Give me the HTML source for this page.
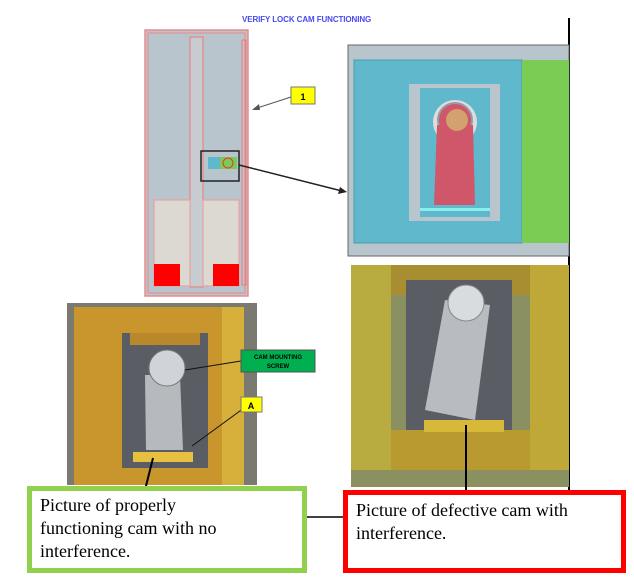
<!DOCTYPE html>
<html><head><style>
body{margin:0;width:634px;height:587px;background:#fff;position:relative;overflow:hidden;font-family:"Liberation Serif",serif}
.a{position:absolute}
</style></head><body>
<div class="a" style="left:242px;top:15px;font:bold 8px 'Liberation Sans',sans-serif;color:#4a4af0;letter-spacing:-0.1px">VERIFY LOCK CAM FUNCTIONING</div>
<svg class="a" style="left:0;top:0" width="634" height="587">
<line x1="569" y1="18" x2="569" y2="490" stroke="#000" stroke-width="2"/>
<!-- cabinet -->
<rect x="145" y="30" width="103" height="266" fill="#b9c5cd" stroke="#e88" stroke-width="1.5"/>
<rect x="148" y="33" width="97" height="260" fill="none" stroke="#e88"/>
<rect x="190" y="37" width="13" height="250" fill="#c6ccd0" stroke="#e77"/>
<rect x="242" y="40" width="4" height="245" fill="none" stroke="#e77"/>
<rect x="154" y="200" width="36" height="86" fill="#dcd8d2" stroke="#e99"/>
<rect x="203" y="200" width="36" height="86" fill="#dcd8d2" stroke="#e99"/>
<rect x="154" y="264" width="26" height="22" fill="#f00"/>
<rect x="213" y="264" width="26" height="22" fill="#f00"/>
<rect x="208" y="157" width="12" height="12" fill="#5fb8cc"/>
<rect x="220" y="157" width="17" height="12" fill="#7acc55"/>
<circle cx="228" cy="163" r="5" fill="none" stroke="#e33"/>
<rect x="201" y="151" width="38" height="30" fill="none" stroke="#222" stroke-width="1.5"/>
<line x1="291" y1="97" x2="254" y2="109" stroke="#555"/>
<polygon points="252,110 259,104 260,110" fill="#555"/>
<rect x="291" y="87" width="24" height="17" fill="#ff0" stroke="#777"/>
<text x="303" y="100" font-family="Liberation Sans" font-weight="bold" font-size="9" text-anchor="middle">1</text>
<line x1="239" y1="165" x2="342" y2="191" stroke="#222" stroke-width="1.5"/>
<polygon points="347,192 338,194 340,187" fill="#222"/>
<!-- detail -->
<rect x="348" y="45" width="221" height="211" fill="#b9c5cd" stroke="#666"/>
<rect x="354" y="60" width="168" height="183" fill="#5fb8cc" stroke="#4a9aaa"/>
<rect x="522" y="60" width="47" height="183" fill="#7acc55"/>
<rect x="409" y="84" width="91" height="137" fill="#b9c5cd"/>
<rect x="420" y="88" width="70" height="129" fill="#5fb8cc"/>
<rect x="420" y="208" width="70" height="3" fill="#8ee"/>
<circle cx="455" cy="122" r="22" fill="#ddd"/>
<circle cx="455" cy="120" r="18" fill="#99a"/>
<path d="M437 125 L473 125 L475 205 L434 205 Z" fill="#d0576a"/>
<circle cx="455" cy="120" r="16" fill="#d0576a"/>
<circle cx="457" cy="120" r="11" fill="#d3a070"/>
<!-- right photo -->
<rect x="351" y="265" width="218" height="222" fill="#8a9060"/>
<rect x="351" y="265" width="40" height="205" fill="#b8ac40"/>
<rect x="530" y="265" width="39" height="205" fill="#c0a838"/>
<rect x="391" y="265" width="139" height="30" fill="#a88e30"/>
<rect x="406" y="280" width="106" height="155" fill="#5a5e64"/>
<rect x="391" y="430" width="139" height="40" fill="#b89a30"/>
<rect x="424" y="420" width="80" height="12" fill="#d8b838"/>
<path d="M445 300 L490 305 L475 420 L425 410 Z" fill="#b8bcc0"/>
<circle cx="466" cy="303" r="18" fill="#d8dcdf" stroke="#888"/>
<line x1="466" y1="425" x2="466" y2="492" stroke="#000" stroke-width="2"/>
<!-- left photo -->
<rect x="67" y="303" width="190" height="182" fill="#7a7a70"/>
<rect x="74" y="307" width="170" height="178" fill="#c9962e"/>
<rect x="222" y="307" width="22" height="178" fill="#d6b03a"/>
<rect x="122" y="333" width="86" height="135" fill="#5a5e64"/>
<rect x="130" y="333" width="70" height="12" fill="#b8882a"/>
<rect x="133" y="452" width="60" height="10" fill="#e8c040"/>
<path d="M145 375 L180 375 L183 450 L146 450 Z" fill="#b6babe"/>
<circle cx="167" cy="368" r="18" fill="#d0d4d8" stroke="#777"/>
<line x1="241" y1="361" x2="185" y2="370" stroke="#111"/>
<line x1="244" y1="408" x2="192" y2="446" stroke="#111"/>
<line x1="153" y1="458" x2="145" y2="490" stroke="#000" stroke-width="2"/>
<rect x="241" y="350" width="74" height="22" fill="#00b050" stroke="#555"/>
<text x="278" y="359" font-family="Liberation Sans" font-weight="bold" font-size="6" text-anchor="middle">CAM MOUNTING</text>
<text x="278" y="368" font-family="Liberation Sans" font-weight="bold" font-size="6" text-anchor="middle">SCREW</text>
<rect x="241" y="397" width="21" height="15" fill="#ff0" stroke="#777"/>
<text x="251" y="409" font-family="Liberation Sans" font-weight="bold" font-size="9" text-anchor="middle">A</text>
<line x1="307" y1="517" x2="343" y2="517" stroke="#000" stroke-width="1.5"/>
</svg>
<div class="a" style="left:27px;top:486px;width:270px;height:77px;border:5px solid #92d050;background:#fff;box-sizing:content-box"></div>
<div class="a" style="left:40px;top:494px;font-size:18px;line-height:23px;color:#000">Picture of properly<br>functioning cam with no<br>interference.</div>
<div class="a" style="left:343px;top:490px;width:273px;height:73px;border:5px solid #f00;background:#fff"></div>
<div class="a" style="left:356px;top:499px;font-size:18px;line-height:23px;color:#000">Picture of defective cam with<br>interference.</div>
</body></html>
